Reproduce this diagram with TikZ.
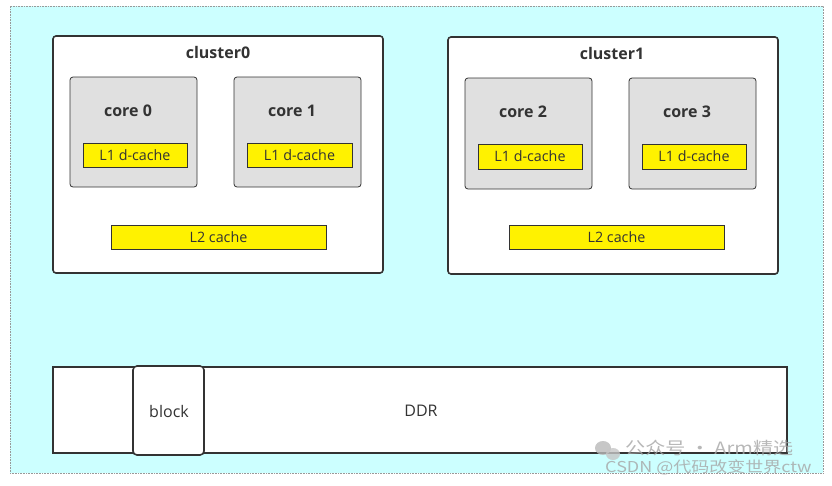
\documentclass[tikz,border=0pt]{standalone}
\usepackage{fontspec}
\setmainfont{Open Sans}
\newfontfamily\cjkfont{Noto Sans CJK SC}
\definecolor{bgcyan}{HTML}{CCFFFF}
\definecolor{darkline}{HTML}{333333}
\definecolor{coregray}{HTML}{E0E0E0}
\definecolor{txt}{HTML}{333333}
\begin{document}
\begin{tikzpicture}[x=1pt,y=-1pt,
  box/.style={draw=darkline, inner sep=0pt, outer sep=0pt},
  clusterbox/.style={box, line width=1.6pt, fill=white, rounded corners=3pt, minimum width=330pt, minimum height=237pt},
  corebox/.style={box, line width=0.8pt, fill=coregray, rounded corners=3pt, minimum width=127pt, minimum height=110pt},
  cachebox/.style={box, line width=0.8pt, fill=yellow, font=\fontsize{14.3}{16}\selectfont, text=txt},
  boldlabel/.style={inner sep=0pt, font=\bfseries\fontsize{16}{18}\selectfont, text=txt},
  plainlabel/.style={inner sep=0pt, font=\fontsize{16}{18}\selectfont, text=txt},
  wmtext/.style={inner sep=0pt, text=gray!70, opacity=0.8}
]
\useasboundingbox (0,0) rectangle (832,485);
% background
\node[draw=gray!80, densely dotted, line width=0.6pt, fill=bgcyan, inner sep=0pt, minimum width=813pt, minimum height=467pt] (bg) at (416.5,239.5) {};

% clusters
\node[clusterbox] (c0) at (218,154.5) {};
\node[clusterbox] (c1) at (613,155.5) {};
\node[boldlabel] (c0t) at (218,52) {cluster0};
\node[boldlabel] (c1t) at (612,53) {cluster1};

% cores
\node[corebox] (k0) at (133.5,132) {};
\node[corebox] (k1) at (297.5,132) {};
\node[corebox, minimum height=111pt] (k2) at (528.5,133.5) {};
\node[corebox, minimum height=111pt] (k3) at (692.5,133.5) {};
\node[boldlabel] (k0t) at (128,111) {core 0};
\node[boldlabel] (k1t) at (292,111) {core 1};
\node[boldlabel] (k2t) at (523,112) {core 2};
\node[boldlabel] (k3t) at (687,112) {core 3};

% L1 caches
\node[cachebox, minimum width=104pt, minimum height=24pt] (l10) at (135,155) {L1 d-cache};
\node[cachebox, minimum width=105pt, minimum height=24pt] (l11) at (299.5,155) {L1 d-cache};
\node[cachebox, minimum width=104pt, minimum height=25pt] (l12) at (530,156.5) {L1 d-cache};
\node[cachebox, minimum width=104pt, minimum height=25pt] (l13) at (694,156.5) {L1 d-cache};

% L2 caches
\node[cachebox, minimum width=215pt, minimum height=24pt] (l20) at (218.5,237) {L2 cache};
\node[cachebox, minimum width=215pt, minimum height=24pt] (l21) at (616.5,237) {L2 cache};

% DDR
\node[box, line width=1.6pt, fill=white, minimum width=734pt, minimum height=86pt] (ddr) at (420,410) {};
\node[box, line width=1.6pt, fill=white, rounded corners=4pt, minimum width=71pt, minimum height=89pt] (blk) at (168.5,410.5) {};
\node[plainlabel] (blkt) at (169,411) {block};
\node[plainlabel] (ddrt) at (421,411) {DDR};

% watermark
\fill[gray!55, opacity=0.8] (603,448) ellipse (8pt and 7pt);
\fill[gray!45, opacity=0.8] (613,454) ellipse (7pt and 6pt);
\node[wmtext, anchor=west, xscale=1.18, font=\cjkfont\fontsize{17}{19}\selectfont] (wm1) at (625,448) {公众号 · Arm精选};
\node[wmtext, anchor=west, xscale=1.2, font=\cjkfont\fontsize{15}{17}\selectfont] (wm2) at (605,467) {CSDN @代码改变世界ctw};
\end{tikzpicture}
\end{document}
